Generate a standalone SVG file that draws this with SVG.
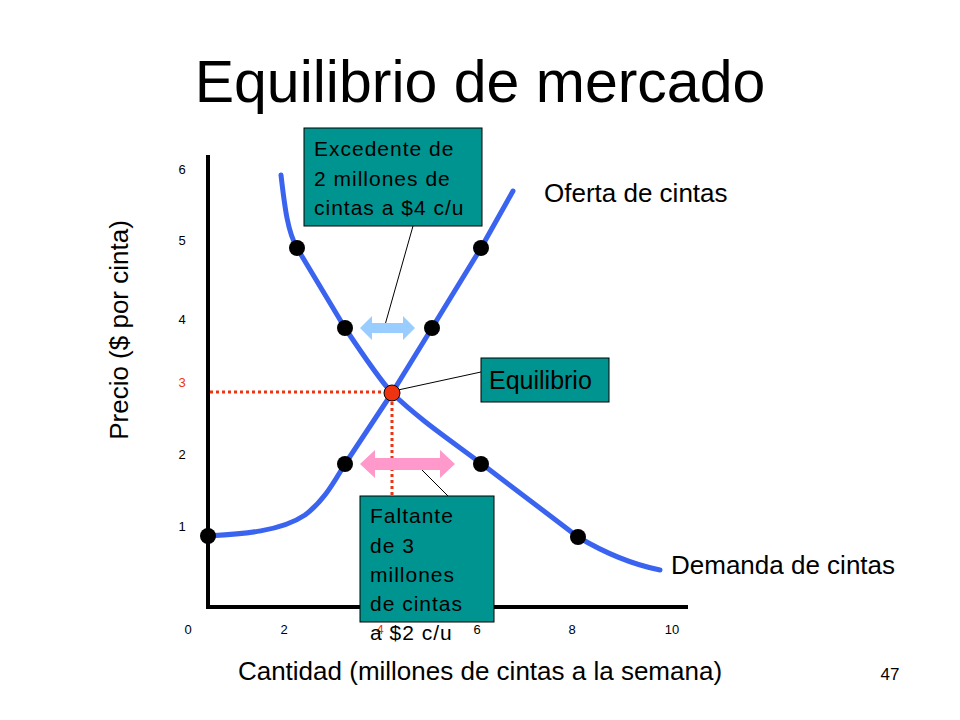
<svg xmlns="http://www.w3.org/2000/svg" width="960" height="720" viewBox="0 0 960 720">
<style>
text{font-family:"Liberation Sans",Arial,sans-serif;fill:#000}
.tk{font-size:13px}
.curve{fill:none;stroke:#3a64f0;stroke-width:5;stroke-linecap:round;stroke-linejoin:round}
.dot{fill:#000}
.box{fill:#009490;stroke:#000;stroke-width:1}
.bt{font-size:21px;letter-spacing:1px}
.lead{stroke:#000;stroke-width:1}
.red{stroke:#ee3311;stroke-width:3;stroke-dasharray:3,3;fill:none}
</style>
<rect width="960" height="720" fill="#fff"/>
<text x="480" y="102" font-size="59" text-anchor="middle">Equilibrio de mercado</text>
<g id="axes">
<line x1="208" y1="155" x2="208" y2="609" stroke="#000" stroke-width="4"/>
<line x1="206" y1="607" x2="688" y2="607" stroke="#000" stroke-width="4"/>
<g class="tk" text-anchor="middle">
<text x="182" y="174">6</text><text x="182" y="245">5</text><text x="182" y="324">4</text>
<text x="182" y="387" style="fill:#ee3311">3</text><text x="182" y="459">2</text><text x="182" y="531">1</text>
<text x="188" y="634">0</text><text x="284" y="634">2</text><text x="380" y="634" style="fill:#ee3311">4</text>
<text x="477" y="634">6</text><text x="572" y="634">8</text><text x="672" y="634">10</text>
</g>
<text transform="translate(128,330) rotate(-90)" font-size="26" text-anchor="middle">Precio ($ por cinta)</text>
<text x="480" y="680" font-size="26" text-anchor="middle">Cantidad (millones de cintas a la semana)</text>
<text x="890" y="680" font-size="17" text-anchor="middle">47</text>
</g>
<path class="red" d="M210,392 H392 V500"/>
<g id="connectors">
<path class="curve" d="M281,175 C285,210 288,232 297,248 L345,328 C365,358 380,380 392,393 C420,420 450,440 482,464 L578,537 C610,556 635,565 660,570"/>
<path class="curve" d="M208,536 C240,534 280,532 305,515 C325,500 335,480 345,464 L392,393 L432,328 L481,248 L513,191"/>
<line class="lead" x1="385" y1="325" x2="413" y2="226"/>
<line class="lead" x1="422" y1="470" x2="448" y2="496"/>
<line class="lead" x1="398" y1="390" x2="481" y2="372"/>
<polygon fill="#99ccff" points="360,328 372,316 372,323 403,323 403,316 415,328 403,340 403,333 372,333 372,340"/>
<polygon fill="#ff99cc" points="360,464 375,450 375,458 440,458 440,450 455,464 440,478 440,470 375,470 375,478"/>
</g>
<g id="points">
<circle class="dot" cx="297" cy="248" r="8"/><circle class="dot" cx="481" cy="248" r="8"/>
<circle class="dot" cx="345" cy="328" r="8"/><circle class="dot" cx="432" cy="328" r="8"/>
<circle class="dot" cx="345" cy="464" r="8"/><circle class="dot" cx="481" cy="464" r="8"/>
<circle class="dot" cx="208" cy="536" r="8"/><circle class="dot" cx="578" cy="537" r="8"/>
<circle cx="392" cy="393" r="8" fill="#ee3311" stroke="#000" stroke-width="1"/>
</g>
<g id="label-oferta"><text x="544" y="202" font-size="26">Oferta de cintas</text></g>
<g id="label-demanda"><text x="671" y="574" font-size="26">Demanda de cintas</text></g>
<g id="box-excedente">
<rect class="box" x="304" y="128" width="178" height="98"/>
<text class="bt" x="314" y="156">Excedente de</text>
<text class="bt" x="314" y="186">2 millones de</text>
<text class="bt" x="314" y="215">cintas a $4 c/u</text>
</g>
<g id="box-equilibrio">
<rect class="box" x="481" y="358" width="128" height="44"/>
<text x="489" y="389" font-size="25">Equilibrio</text>
</g>
<g id="box-faltante">
<rect class="box" x="360" y="496" width="134" height="126"/>
<text class="bt" x="370" y="523">Faltante</text>
<text class="bt" x="370" y="553">de 3</text>
<text class="bt" x="370" y="582">millones</text>
<text class="bt" x="370" y="611">de cintas</text>
<text class="bt" x="370" y="640">a $2 c/u</text>
</g>
</svg>
